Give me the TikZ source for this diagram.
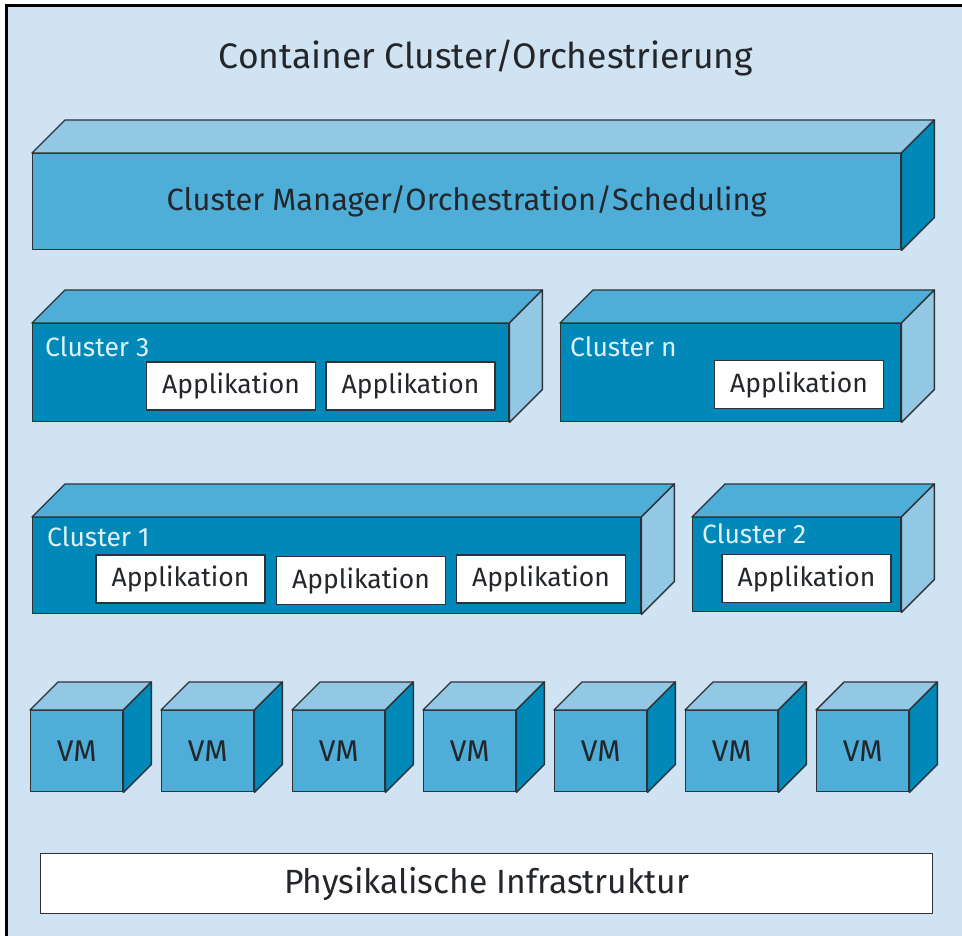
\documentclass[tikz,border=0pt]{standalone}
\usepackage{fontspec}
\setmainfont{Fira Sans}
\usetikzlibrary{calc}

\definecolor{hgblau}{RGB}{207,227,242}
\definecolor{hellblau}{RGB}{147,200,229}
\definecolor{mittelblau}{RGB}{78,174,216}
\definecolor{dunkelblau}{RGB}{0,137,184}
\definecolor{linie}{RGB}{45,50,55}
\definecolor{schrift}{RGB}{35,38,42}
\definecolor{clschrift}{RGB}{222,240,250}

% Deckel und Seite eines Quaders an einen Knoten haengen
\newcommand{\quader}[4]{%
  \draw[kante,fill=#3] (#1.north west) -- ++(#2,-#2) -- ($(#1.north east)+(#2,-#2)$) -- (#1.north east) -- cycle;
  \draw[kante,fill=#4] (#1.north east) -- ($(#1.north east)+(#2,-#2)$) -- ($(#1.south east)+(#2,-#2)$) -- (#1.south east) -- cycle;
}

\begin{document}
\begin{tikzpicture}[x=1pt,y=-1pt,
  kante/.style={draw=linie,line width=1.4pt,line join=round},
  vorne/.style={kante,rectangle,anchor=north west,inner sep=0pt,text=schrift},
  app/.style={kante,fill=white,minimum width=169pt,minimum height=48pt,inner sep=0pt,
    text=schrift,font=\fontsize{26.5}{27}\selectfont},
  clname/.style={anchor=base west,inner sep=0pt,text=clschrift,font=\fontsize{26.5}{27}\selectfont}]
\useasboundingbox (0,0) rectangle (962,936);

% Hintergrund
\fill[hgblau] (6,6) rectangle (962,936);
\draw[black,line width=3pt] (6,936) -- (6,6) -- (962,6);
\node[text=schrift,font=\fontsize{35.5}{36}\selectfont] (titel) at (486,58) {Container Cluster/Orchestrierung};

% Cluster Manager
\node[vorne,fill=mittelblau,minimum width=868pt,minimum height=96pt,font=\fontsize{30.8}{31}\selectfont] (manager) at (32,153) {Cluster Manager/Orchestration/Scheduling};
\quader{manager}{33}{hellblau}{dunkelblau}

% Cluster 3 und Cluster n
\node[vorne,fill=dunkelblau,minimum width=476pt,minimum height=98pt] (cl3) at (32,323) {};
\quader{cl3}{33}{mittelblau}{hellblau}
\node[clname] (cl3name) at (45,356) {Cluster 3};
\node[app] (cl3app1) at (231,386) {Applikation};
\node[app] (cl3app2) at (410.5,386) {Applikation};

\node[vorne,fill=dunkelblau,minimum width=340pt,minimum height=98pt] (cln) at (560,323) {};
\quader{cln}{33}{mittelblau}{hellblau}
\node[clname] (clnname) at (570,356) {Cluster n};
\node[app] (clnapp1) at (799,384.5) {Applikation};

% Cluster 1 und Cluster 2
\node[vorne,fill=dunkelblau,minimum width=608pt,minimum height=96pt] (cl1) at (32,517) {};
\quader{cl1}{33}{mittelblau}{hellblau}
\node[clname] (cl1name) at (47,546) {Cluster 1};
\node[app] (cl1app1) at (180.5,579) {Applikation};
\node[app] (cl1app2) at (361,580.5) {Applikation};
\node[app] (cl1app3) at (541,579) {Applikation};

\node[vorne,fill=dunkelblau,minimum width=208pt,minimum height=94pt] (cl2) at (692,517) {};
\quader{cl2}{33}{mittelblau}{hellblau}
\node[clname] (cl2name) at (702,543) {Cluster 2};
\node[app] (cl2app1) at (806.5,578.5) {Applikation};

% VMs
\foreach \i in {0,...,6} {
  \node[vorne,fill=mittelblau,minimum width=92pt,minimum height=81pt,font=\fontsize{30}{30}\selectfont] (vm\i) at ({30+131*\i},710) {VM};
  \quader{vm\i}{28}{hellblau}{dunkelblau}
}

% Physikalische Infrastruktur
\node[vorne,fill=white,minimum width=892pt,minimum height=60pt,font=\fontsize{33.6}{34}\selectfont] (infra) at (40,853) {Physikalische Infrastruktur};
\end{tikzpicture}
\end{document}
